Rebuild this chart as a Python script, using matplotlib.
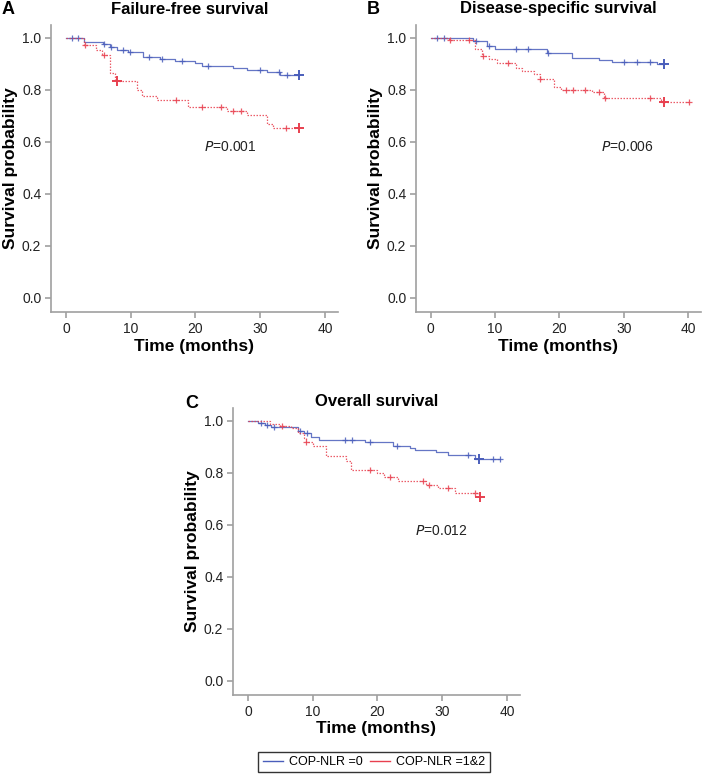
import numpy as np
import matplotlib
matplotlib.use("Agg")
import matplotlib.pyplot as plt
from matplotlib.lines import Line2D

plt.rcParams['font.family'] = ['Liberation Sans', 'DejaVu Sans']

# ---------------- data ----------------
# Panel A: Failure-free survival
A_blue_t = [0, 2.8, 5.7, 6.8, 7.9, 9.6, 11.9, 14.5, 16.8, 19.9, 21.0, 25.8, 28.0, 31.0, 33.0]
A_blue_s = [1.0, 0.983, 0.976, 0.967, 0.954, 0.945, 0.928, 0.919, 0.912, 0.903, 0.894, 0.886, 0.877, 0.868, 0.858]
A_blue_c = [1.0, 1.9, 5.9, 7.0, 8.85, 9.85, 12.9, 14.9, 17.9, 22.0, 29.9, 32.9, 34.1]
A_blue_big = [36.0]
A_red_t = [0, 2.8, 4.7, 5.6, 6.8, 7.6, 11.0, 11.8, 14.0, 18.9, 24.8, 27.9, 31.0, 32.0]
A_red_s = [1.0, 0.973, 0.955, 0.935, 0.864, 0.835, 0.80, 0.776, 0.762, 0.733, 0.719, 0.704, 0.668, 0.653]
A_red_c = [2.9, 5.9, 17.0, 21.0, 23.9, 25.8, 27.0, 34.0]
A_red_big = [7.9, 36.0]

# Panel B: Disease-specific survival
B_blue_t = [0, 6.5, 8.7, 10.0, 18.1, 22.0, 26.2, 28.2, 35.1]
B_blue_s = [1.0, 0.987, 0.970, 0.958, 0.941, 0.923, 0.915, 0.906, 0.90]
B_blue_c = [0.9, 2.0, 7.0, 9.0, 13.2, 15.1, 18.2, 30.1, 32.1, 34.1]
B_blue_big = [36.2]
B_red_t = [0, 2.8, 6.8, 8.0, 9.0, 10.3, 13.2, 14.2, 16.0, 16.9, 19.1, 20.2, 25.0, 27.0, 35.8]
B_red_s = [1.0, 0.992, 0.958, 0.932, 0.92, 0.902, 0.885, 0.873, 0.862, 0.842, 0.813, 0.80, 0.791, 0.769, 0.755]
B_red_c = [3.0, 5.9, 8.1, 12.0, 17.0, 21.0, 22.1, 24.0, 26.1, 27.1, 34.1, 40.1]
B_red_big = [36.2]

# Panel C: Overall survival
C_blue_t = [0, 1.6, 2.6, 3.5, 7.8, 8.6, 9.8, 11.0, 18.1, 22.4, 25.0, 25.8, 29.1, 30.9, 35.1]
C_blue_s = [1.0, 0.993, 0.985, 0.976, 0.96, 0.953, 0.94, 0.928, 0.918, 0.905, 0.898, 0.888, 0.88, 0.869, 0.854]
C_blue_c = [2.0, 3.0, 4.0, 8.0, 9.1, 15.0, 16.0, 18.8, 23.0, 34.0, 37.9, 38.9]
C_blue_big = [35.7]
C_red_t = [0, 3.4, 5.0, 6.6, 7.8, 8.6, 8.9, 10.0, 12.0, 15.2, 15.9, 19.9, 21.0, 23.2, 27.5, 29.4, 32.0, 35.6]
C_red_s = [1.0, 0.99, 0.982, 0.972, 0.955, 0.935, 0.92, 0.905, 0.864, 0.845, 0.813, 0.80, 0.784, 0.77, 0.754, 0.741, 0.723, 0.706]
C_red_c = [5.3, 9.0, 18.9, 21.9, 27.0, 28.0, 30.9, 35.1]
C_red_big = [35.8]

titles = ["Failure-free survival", "Disease-specific survival", "Overall survival"]
letters = ["A", "B", "C"]
p_texts = ["0.001", "0.006", "0.012"]
p_pos = [(21.3, 0.58), (26.4, 0.58), (25.8, 0.577)]
legend_labels = ["COP-NLR =0", "COP-NLR =1&2"]

BLUE = "#4a5ebb"
RED = "#e8404f"
GRAY = "#a0a0a0"

W, H = 703, 775
fig = plt.figure(figsize=(W / 100, H / 100), dpi=100)


def ax_rect(left, right, top, bottom):
    return [left / W, 1 - bottom / H, (right - left) / W, (bottom - top) / H]


axes = [
    fig.add_axes(ax_rect(51, 338, 25, 312)),
    fig.add_axes(ax_rect(416, 701, 25, 312)),
    fig.add_axes(ax_rect(233, 520, 408, 695)),
]

panels = [
    (A_blue_t, A_blue_s, A_blue_c, A_blue_big, A_red_t, A_red_s, A_red_c, A_red_big),
    (B_blue_t, B_blue_s, B_blue_c, B_blue_big, B_red_t, B_red_s, B_red_c, B_red_big),
    (C_blue_t, C_blue_s, C_blue_c, C_blue_big, C_red_t, C_red_s, C_red_c, C_red_big),
]


def surv_at(t_list, s_list, t):
    idx = np.searchsorted(np.array(t_list), t, side='right') - 1
    return s_list[max(idx, 0)]


title_pos = [(190, 9), (558, 9), (377, 401)]
letter_pos = [(2, 9), (367, 9), (185, 403)]

for i, ax in enumerate(axes):
    bt, bs, bc, bb, rt, rs, rc, rb = panels[i]
    for t, s, c, big, col, ls in [(bt, bs, bc, bb, BLUE, '-'),
                                  (rt, rs, rc, rb, RED, (0, (1.2, 1.2)))]:
        tmax = max(max(c), max(big), max(t))
        xs = list(t) + [tmax]
        ys = list(s) + [s[-1]]
        ax.step(xs, ys, where='post', color=col, lw=0.9, ls=ls, alpha=0.85)
        cy = [surv_at(t, s, ci) for ci in c]
        ax.plot(c, cy, ls='none', marker='+', ms=5, mew=0.9, color=col, alpha=0.85)
        by = [surv_at(t, s, bi) for bi in big]
        ax.plot(big, by, ls='none', marker='+', ms=7, mew=1.4, color=col)
    ax.set_xlim(-2.3, 42)
    ax.set_ylim(-0.054, 1.05)
    ax.set_xticks([0, 10, 20, 30, 40])
    ax.set_yticks([0.0, 0.2, 0.4, 0.6, 0.8, 1.0])
    ax.set_yticklabels(["0.0", "0.2", "0.4", "0.6", "0.8", "1.0"])
    for sp in ['top', 'right']:
        ax.spines[sp].set_visible(False)
    for sp in ['left', 'bottom']:
        ax.spines[sp].set_color(GRAY)
        ax.spines[sp].set_linewidth(1.2)
    ax.tick_params(axis='both', colors=GRAY, labelcolor='#222222', labelsize=10,
                   length=4, width=1.2, direction='out', pad=3)
    ax.set_xlabel("Time (months)", fontsize=12.5, fontweight='bold', labelpad=2)
    ax.set_ylabel("Survival probability", fontsize=12.5, fontweight='bold', labelpad=3)
    tx, ty = title_pos[i]
    fig.text(tx / W, 1 - ty / H, titles[i], fontsize=12, fontweight='bold',
             ha='center', va='center')
    lx, ly = letter_pos[i]
    fig.text(lx / W, 1 - ly / H, letters[i], fontsize=13, fontweight='bold',
             va='center', ha='left')
    px, py = p_pos[i]
    ax.text(px, py, r"$\mathit{P}$=" + p_texts[i], fontsize=10, ha='left', va='center',
            color='#222222', math_fontfamily='dejavusans')

handles = [Line2D([], [], color=BLUE, lw=1), Line2D([], [], color=RED, lw=1)]
leg = fig.legend(handles, legend_labels, loc='center', bbox_to_anchor=(374 / W, 1 - 762 / H),
                 ncol=2, frameon=True, fancybox=False, fontsize=9, handlelength=1.6,
                 columnspacing=0.6, handletextpad=0.5, borderpad=0.35, borderaxespad=0)
leg.get_frame().set_edgecolor('black')
leg.get_frame().set_linewidth(1.0)

fig.savefig("out.png", dpi=100)
